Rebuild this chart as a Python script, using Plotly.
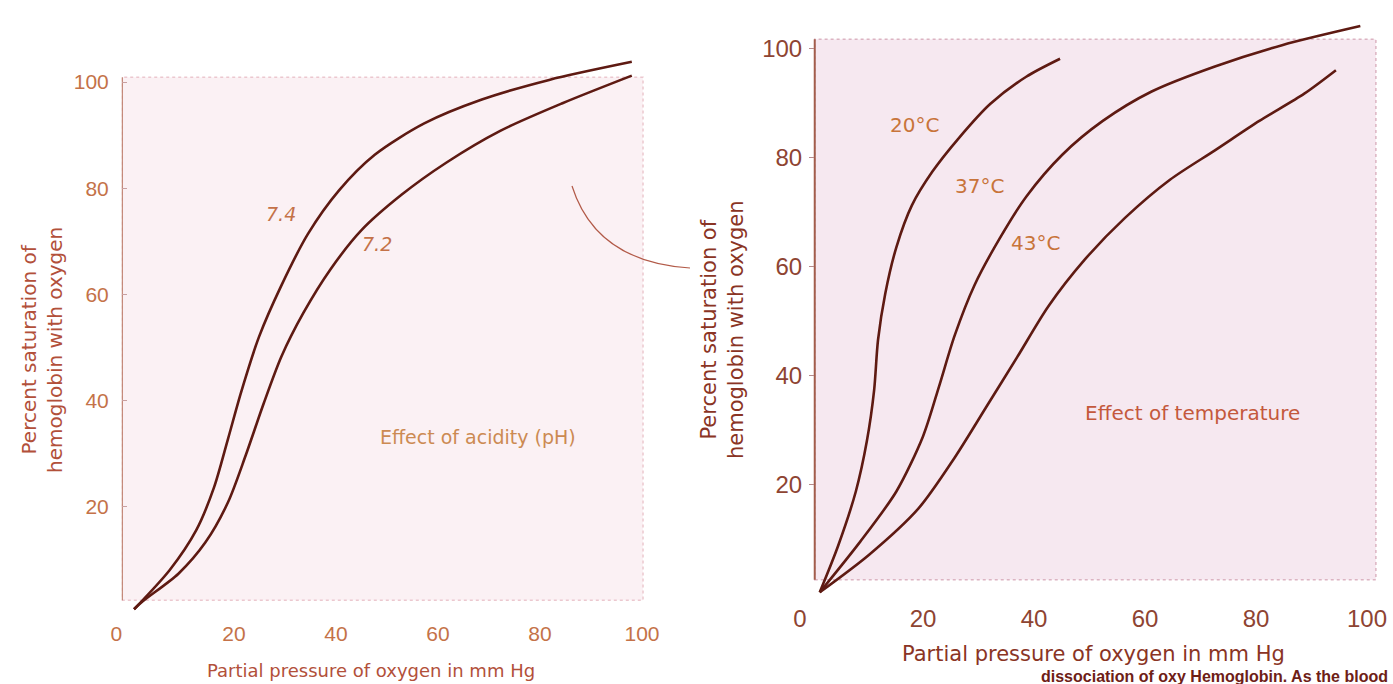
import plotly.graph_objects as go

W, H = 1393, 684

# ---------------- data ----------------
ph74_x = [0.4, 7.4, 12.6, 16.1, 18.8, 21.4, 24.9, 29.3, 34.5, 40.6, 47.6, 57.3, 68.6, 81.8, 98.0]
ph74_y = [0.7, 8.1, 15.6, 23.7, 32.7, 41.6, 52.0, 61.7, 71.4, 79.6, 86.3, 92.2, 96.7, 100.4, 103.8]

ph72_x = [0.4, 2.1, 9.1, 14.4, 18.8, 22.3, 25.8, 29.3, 33.6, 38.9, 45.0, 52.9, 61.6, 72.2, 84.4, 98.0]
ph72_y = [0.7, 2.2, 7.4, 13.3, 20.8, 29.7, 39.4, 48.3, 56.5, 64.7, 72.1, 78.8, 84.8, 90.8, 96.0, 101.2]

t20_x = [1.4, 4.7, 7.9, 9.9, 11.2, 11.9, 13.2, 15.2, 18.0, 21.7, 26.5, 32.1, 38.6, 44.7]
t20_y = [0.3, 8.8, 18.8, 28.1, 37.4, 46.6, 55.1, 63.6, 71.3, 77.5, 83.7, 89.9, 94.9, 98.2]

t37_x = [1.4, 8.7, 15.2, 20.0, 22.9, 25.7, 29.3, 33.8, 38.6, 45.1, 52.4, 61.2, 72.6, 84.7, 98.8]
t37_y = [0.3, 9.6, 18.8, 28.9, 38.1, 47.4, 56.7, 65.2, 72.9, 80.6, 86.8, 92.2, 96.8, 100.7, 104.2]

t43_x = [1.4, 10.3, 19.2, 25.7, 31.4, 37.0, 42.6, 49.1, 56.4, 64.5, 72.6, 80.6, 88.7, 94.4]
t43_y = [0.3, 7.2, 15.7, 25.0, 34.3, 43.5, 52.8, 61.3, 69.0, 76.0, 81.4, 86.8, 91.8, 96.1]

x_ticks = [0, 20, 40, 60, 80, 100]
y_ticks = [20, 40, 60, 80, 100]

# ---------------- styles ----------------
CURVE = "#5e1a12"
LEFT_TXT = "#c47248"
RIGHT_TXT = "#8e4432"
TITLE_L = "#b2503a"
TITLE_R = "#8a3424"
FONT = "Liberation Sans, Arial, sans-serif"
WIDE = "DejaVu Sans, Verdana, sans-serif"

fig = go.Figure()

line = dict(color=CURVE, width=2.6, shape="spline", smoothing=0.8)
for xs, ys, nm in [(ph74_x, ph74_y, "pH 7.4"), (ph72_x, ph72_y, "pH 7.2")]:
    fig.add_trace(go.Scatter(x=xs, y=ys, mode="lines", line=line, name=nm,
                             xaxis="x", yaxis="y", showlegend=False, hoverinfo="skip"))
for xs, ys, nm in [(t20_x, t20_y, "20°C"), (t37_x, t37_y, "37°C"), (t43_x, t43_y, "43°C")]:
    fig.add_trace(go.Scatter(x=xs, y=ys, mode="lines", line=line, name=nm,
                             xaxis="x2", yaxis="y2", showlegend=False, hoverinfo="skip"))

def px(x):
    return x / W

def py(y):
    return 1 - y / H

common_x = dict(showgrid=False, zeroline=False, showline=False, ticks="",
                tickvals=x_ticks, automargin=False)
common_y = dict(showgrid=False, zeroline=False, showline=False,
                ticks="inside", ticklen=5, tickwidth=1, tickvals=y_ticks,
                automargin=False)

fig.update_layout(
    width=W, height=H,
    margin=dict(l=0, r=0, t=0, b=0, autoexpand=False),
    paper_bgcolor="white", plot_bgcolor="rgba(0,0,0,0)",
    font=dict(family=FONT),
    xaxis=dict(domain=[0.08744, 0.46453], range=[-2, 101], anchor="y",
               ticktext=["0\u2003\u2002", "20", "40", "60", "80", "100"],
               tickfont=dict(size=21, color=LEFT_TXT), **common_x),
    yaxis=dict(domain=[0.0953, 0.9189], range=[-1.1, 105], anchor="x",
               ticklabelstandoff=12,
               tickfont=dict(size=21, color=LEFT_TXT), tickcolor="#c9a0a0", **common_y),
    xaxis2=dict(domain=[0.5809, 0.9893], range=[-0.5, 102], anchor="y2",
                ticktext=["0\u2003", "20", "40", "60", "80", "100"],
                tickfont=dict(size=24, color=RIGHT_TXT), **common_x),
    yaxis2=dict(domain=[0.1205, 0.9762], range=[-1.4, 106], anchor="x2",
                ticklabelstandoff=6,
                tickfont=dict(size=24, color=RIGHT_TXT), tickcolor="#b58a8a", **common_y),
)

shapes = [
    # shaded frames
    dict(type="rect", xref="x", yref="y", x0=-2, x1=100.2, y0=2.4, y1=100.9,
         fillcolor="#fbf1f4", line=dict(color="#ecc8cf", width=1.5, dash="dot"), layer="below"),
    dict(type="rect", xref="x2", yref="y2", x0=0.5, x1=101.6, y0=2.6, y1=101.8,
         fillcolor="#f6e8f0", line=dict(color="#dcb4c2", width=1.5, dash="dot"), layer="below"),
    # left axis lines
    dict(type="line", xref="x", yref="y", x0=-2, x1=-2, y0=2.4, y1=100.9,
         line=dict(color="#b8735f", width=2), layer="below"),
    dict(type="line", xref="x2", yref="y2", x0=0.5, x1=0.5, y0=2.6, y1=101.8,
         line=dict(color="#a35d4c", width=2), layer="below"),
    # curved pointer from the left panel to the right panel
    dict(type="path", xref="paper", yref="paper",
         path=f"M {px(572)},{py(186)} Q {px(596)},{py(262)} {px(690)},{py(268)}",
         line=dict(color="#b25a48", width=1.2)),
]
fig.update_layout(shapes=shapes)

ann = []
def text(x, y, s, size, color, xref="x", yref="y", xanchor="center", family=WIDE, **kw):
    ann.append(dict(x=x, y=y, xref=xref, yref=yref, text=s, showarrow=False,
                    xanchor=xanchor, yanchor="middle",
                    font=dict(size=size, color=color, family=family), **kw))

text(29.2, 75.1, "<i>7.4</i>", 19, LEFT_TXT)
text(48.0, 69.5, "<i>7.2</i>", 19, LEFT_TXT)
text(67.8, 33.1, "Effect of acidity (pH)", 19, "#cc8a52")

text(18.4, 86.0, "20°C", 20, "#c8743a", xref="x2", yref="y2")
text(30.1, 74.9, "37°C", 20, "#c8743a", xref="x2", yref="y2")
text(40.2, 64.4, "43°C", 20, "#c8743a", xref="x2", yref="y2")
text(68.5, 33.2, "Effect of temperature", 20, "#c4583c", xref="x2", yref="y2")

# axis titles
text(px(42), py(350), "Percent saturation of<br>hemoglobin with oxygen", 20, TITLE_L,
     xref="paper", yref="paper", textangle=-90)
text(px(371), py(670), "Partial pressure of oxygen in mm Hg", 18, TITLE_L,
     xref="paper", yref="paper")
text(px(723), py(330), "Percent saturation of<br>hemoglobin with oxygen", 21, TITLE_R,
     xref="paper", yref="paper", textangle=-90)
text(px(1093), py(654), "Partial pressure of oxygen in mm Hg", 21, TITLE_R,
     xref="paper", yref="paper")

# caption line at the bottom edge
text(px(1390), py(676), "<b>dissociation of oxy Hemoglobin. As the blood</b>", 16, "#6e2016",
     xref="paper", yref="paper", xanchor="right", family=FONT)

fig.update_layout(annotations=ann)

fig.write_html("out.html")
